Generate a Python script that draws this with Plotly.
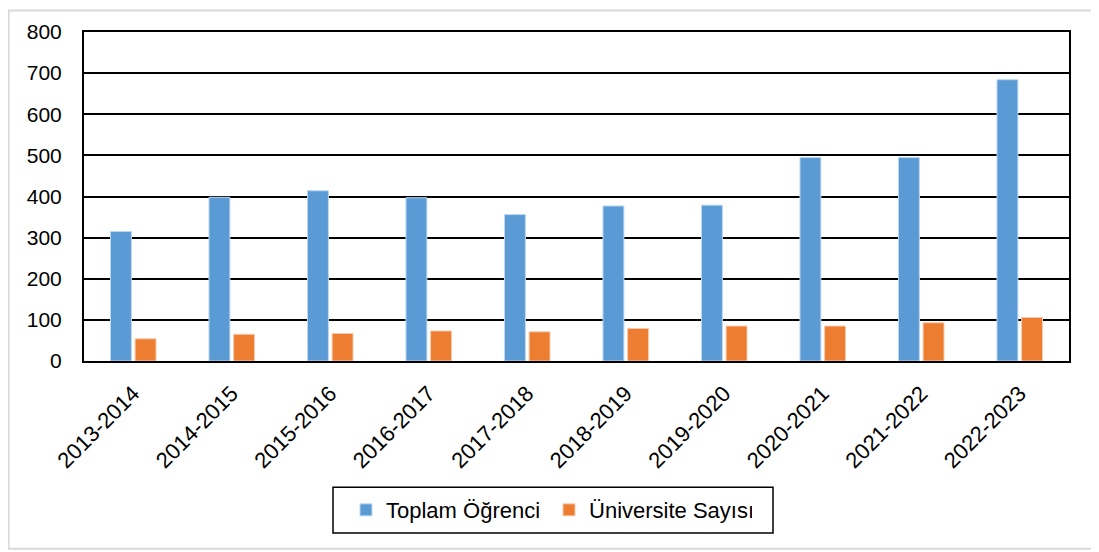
"""Toplam öğrenci ve üniversite sayısı, yıllara göre."""

import plotly.graph_objects as go

years = [
    "2013-2014", "2014-2015", "2015-2016", "2016-2017", "2017-2018",
    "2018-2019", "2019-2020", "2020-2021", "2021-2022", "2022-2023",
]
toplam_ogrenci = [315, 398, 414, 397, 356, 377, 379, 495, 495, 684]
universite_sayisi = [54, 65, 67, 73, 71, 79, 85, 85, 93, 106]

BLUE = "#5B9BD5"
ORANGE = "#ED7D31"
FONT = "Liberation Sans, Arial, sans-serif"

fig = go.Figure()

fig.add_trace(
    go.Bar(
        x=years,
        y=toplam_ogrenci,
        name="Toplam Öğrenci",
        marker=dict(color=BLUE, line=dict(color="#BDD7EE", width=1)),
    )
)
fig.add_trace(
    go.Bar(
        x=years,
        y=universite_sayisi,
        name="Üniversite Sayısı",
        marker=dict(color=ORANGE, line=dict(color="#F8CBAD", width=1)),
    )
)

# light grey frame around the whole chart
fig.add_shape(
    type="rect",
    xref="paper", yref="paper",
    x0=-0.0766, x1=1.0284, y0=-0.571, y1=1.065,
    line=dict(color="#D9D9D9", width=2),
    fillcolor="rgba(0,0,0,0)",
    layer="below",
)
# legend box
fig.add_shape(
    type="rect",
    xref="paper", yref="paper",
    x0=0.2528, x1=0.6995, y0=-0.5227, y1=-0.3837,
    line=dict(color="black", width=1.5),
    fillcolor="rgba(0,0,0,0)",
)

fig.update_layout(
    width=1091,
    height=544,
    margin=dict(l=76, r=30, t=22, b=191),
    paper_bgcolor="white",
    plot_bgcolor="white",
    font=dict(family=FONT, size=21, color="black"),
    barmode="group",
    bargap=0.5,
    bargroupgap=0.15,
    showlegend=True,
    legend=dict(
        orientation="h",
        x=0.266,
        xanchor="left",
        y=-0.453,
        yanchor="middle",
        borderwidth=0,
        bgcolor="rgba(0,0,0,0)",
        font=dict(family=FONT, size=22, color="black"),
        entrywidth=158,
        traceorder="normal",
    ),
)

fig.update_xaxes(
    tickangle=-45,
    showline=True,
    linecolor="black",
    linewidth=2,
    mirror=True,
    ticks="",
    showgrid=False,
    ticklabelstandoff=9,
    tickfont=dict(family=FONT, size=22, color="black"),
)

fig.update_yaxes(
    range=[0, 800],
    dtick=100,
    showline=True,
    linecolor="black",
    linewidth=2,
    mirror=True,
    showgrid=True,
    gridcolor="black",
    gridwidth=1.5,
    zeroline=False,
    ticks="",
    ticklabelstandoff=16,
    tickfont=dict(family=FONT, size=21, color="black"),
)

fig.write_html("out.html")
